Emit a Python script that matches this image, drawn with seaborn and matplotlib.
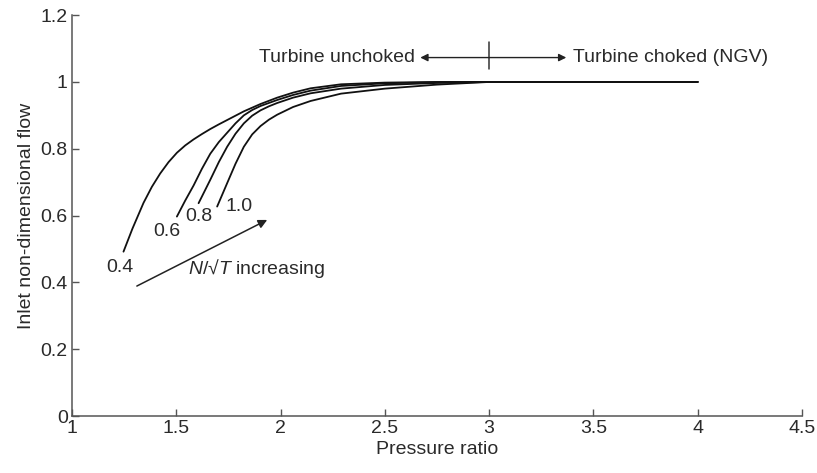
import numpy as np
import pandas as pd
import matplotlib
matplotlib.use("Agg")
import matplotlib.pyplot as plt
import seaborn as sns
from matplotlib.ticker import FuncFormatter

# Turbine inlet flow characteristic for several non-dimensional speeds
speeds = ["0.4", "0.6", "0.8", "1.0"]

pr_04 = [1.247, 1.29, 1.343, 1.383, 1.423, 1.463, 1.503, 1.543, 1.583, 1.623, 1.663,
         1.704, 1.744, 1.784, 1.824, 1.904, 1.984, 2.06, 2.144, 2.29, 2.5, 2.75, 3.0, 4.0]
flow_04 = [0.492, 0.561, 0.638, 0.686, 0.726, 0.760, 0.788, 0.810, 0.828, 0.844, 0.859,
           0.873, 0.886, 0.899, 0.912, 0.934, 0.953, 0.968, 0.981, 0.993, 0.998, 1.0, 1.0, 1.0]

pr_06 = [1.503, 1.543, 1.583, 1.623, 1.663, 1.704, 1.744, 1.784, 1.824, 1.864, 1.904,
         1.984, 2.06, 2.144, 2.29, 2.5, 2.75, 3.0, 4.0]
flow_06 = [0.597, 0.645, 0.690, 0.740, 0.785, 0.820, 0.848, 0.876, 0.900, 0.916, 0.928,
           0.946, 0.961, 0.974, 0.988, 0.996, 0.999, 1.0, 1.0]

pr_08 = [1.607, 1.635, 1.663, 1.704, 1.744, 1.784, 1.824, 1.864, 1.904, 1.944, 1.984,
         2.06, 2.144, 2.29, 2.5, 2.75, 3.0, 4.0]
flow_08 = [0.637, 0.672, 0.707, 0.760, 0.806, 0.845, 0.876, 0.899, 0.915, 0.927, 0.937,
           0.953, 0.966, 0.980, 0.991, 0.997, 1.0, 1.0]

pr_10 = [1.696, 1.72, 1.744, 1.784, 1.824, 1.864, 1.904, 1.944, 1.984, 2.06, 2.144,
         2.29, 2.5, 2.75, 3.0, 4.0]
flow_10 = [0.627, 0.662, 0.697, 0.755, 0.806, 0.843, 0.868, 0.887, 0.902, 0.925, 0.943,
           0.965, 0.980, 0.992, 1.0, 1.0]

x_ticks = [1, 1.5, 2, 2.5, 3, 3.5, 4, 4.5]
y_ticks = [0, 0.2, 0.4, 0.6, 0.8, 1.0, 1.2]

# label positions for each speed line
label_x = [1.23, 1.455, 1.607, 1.80]
label_y = [0.446, 0.552, 0.597, 0.627]

frames = []
for s, px, fy in zip(speeds, [pr_04, pr_06, pr_08, pr_10], [flow_04, flow_06, flow_08, flow_10]):
    frames.append(pd.DataFrame({"Pressure ratio": px, "Inlet flow": fy, "speed": s}))
df = pd.concat(frames, ignore_index=True)

sns.set_theme(style="ticks")
plt.rcParams["font.family"] = ["Liberation Sans", "DejaVu Sans"]
plt.rcParams["mathtext.fontset"] = "custom"
plt.rcParams["mathtext.it"] = "Liberation Sans:italic"
plt.rcParams["mathtext.rm"] = "Liberation Sans"

FS = 14
TXT = "#2a2a2a"

fig = plt.figure(figsize=(8.17, 4.73), dpi=100)
ax = fig.add_axes([0.0881, 0.1205, 0.8935, 0.8475])

sns.lineplot(data=df, x="Pressure ratio", y="Inlet flow", hue="speed",
             palette=["#111111"] * 4, legend=False, sort=False,
             estimator=None, linewidth=1.3, ax=ax)

ax.set_xlim(1, 4.5)
ax.set_ylim(0, 1.2)
ax.set_xticks(x_ticks)
ax.set_yticks(y_ticks)
ax.xaxis.set_major_formatter(FuncFormatter(lambda v, p: f"{v:g}"))
ax.yaxis.set_major_formatter(FuncFormatter(lambda v, p: f"{v:g}"))
ax.tick_params(direction="in", length=5, width=1, color="#555555",
               labelsize=FS, labelcolor=TXT, pad=3)
for side in ["top", "right"]:
    ax.spines[side].set_visible(False)
for side in ["left", "bottom"]:
    ax.spines[side].set_color("#555555")
    ax.spines[side].set_linewidth(1.1)

ax.set_xlabel("Pressure ratio", fontsize=FS, color=TXT, labelpad=3)
ax.set_ylabel("Inlet non-dimensional flow", fontsize=FS, color=TXT, labelpad=4)

for s, lx, ly in zip(speeds, label_x, label_y):
    ax.text(lx, ly, s, fontsize=FS, color=TXT, ha="center", va="center")

# Choke boundary marker and region arrows
ax.plot([3.0, 3.0], [1.04, 1.12], color="#333333", lw=1.1)
ax.annotate("", xy=(2.67, 1.073), xytext=(3.0, 1.073),
            arrowprops=dict(arrowstyle="-|>", color="#222222", lw=1.0,
                            mutation_scale=11, shrinkA=0, shrinkB=0))
ax.annotate("", xy=(3.37, 1.073), xytext=(3.0, 1.073),
            arrowprops=dict(arrowstyle="-|>", color="#222222", lw=1.0,
                            mutation_scale=11, shrinkA=0, shrinkB=0))
ax.text(2.645, 1.073, "Turbine unchoked", fontsize=FS, color=TXT,
        ha="right", va="center")
ax.text(3.40, 1.073, "Turbine choked (NGV)", fontsize=FS, color=TXT,
        ha="left", va="center")

# Speed trend arrow
ax.annotate("", xy=(1.936, 0.587), xytext=(1.311, 0.389),
            arrowprops=dict(arrowstyle="-|>", color="#222222", lw=1.1,
                            mutation_scale=13, shrinkA=0, shrinkB=0))
ax.text(1.555, 0.442, r"$N$/√$T$ increasing", fontsize=FS, color=TXT,
        ha="left", va="center")

fig.savefig("out.png", dpi=100)
